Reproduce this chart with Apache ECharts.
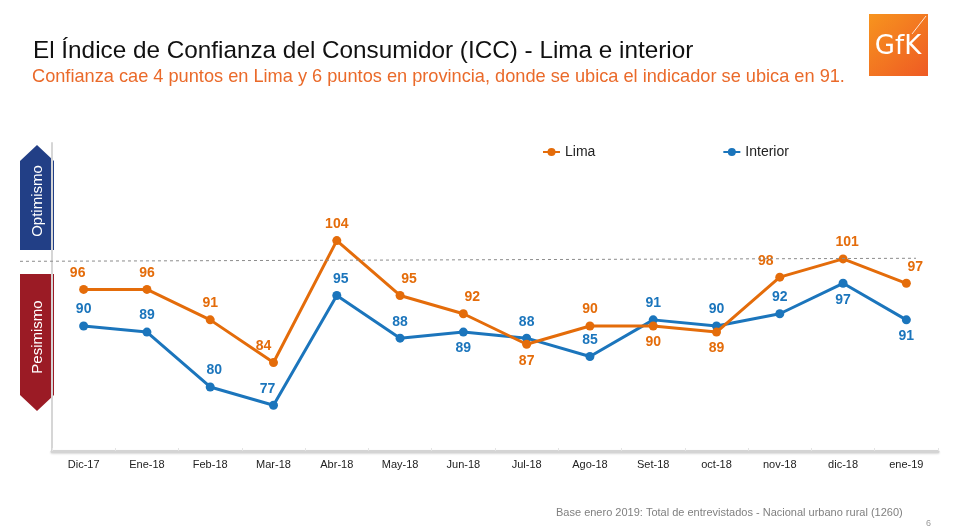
<!DOCTYPE html>
<html>
<head>
<meta charset="utf-8">
<script src="https://cdn.jsdelivr.net/npm/echarts@6/dist/echarts.min.js"></script>
<style>
  html, body { margin: 0; padding: 0; background: #fff; }
  #chart { width: 962px; height: 526px; }
</style>
</head>
<body>
<div id="chart"></div>
<script>
// meses
var months = ['Dic-17', 'Ene-18', 'Feb-18', 'Mar-18', 'Abr-18', 'May-18', 'Jun-18',
              'Jul-18', 'Ago-18', 'Set-18', 'oct-18', 'nov-18', 'dic-18', 'ene-19'];
// ICC Lima
var lima = [96, 96, 91, 84, 104, 95, 92, 87, 90, 90, 89, 98, 101, 97];
// ICC Interior
var interior = [90, 89, 80, 77, 95, 88, 89, 88, 85, 91, 90, 92, 97, 91];
// linea de referencia (optimismo / pesimismo)
var neutral = [100.6, 101.1];

// etiquetas que van debajo del punto y pequeños desplazamientos
var limaBelow = [7, 9, 10];
var interiorBelow = [6, 12, 13];
var limaDx = {0: -6, 3: -10, 5: 9, 6: 9, 11: -14, 12: 4, 13: 9};
var interiorDx = {2: 4, 3: -6, 4: 4};

var LIMA_COLOR = '#E46C0A';
var INT_COLOR = '#1B75BC';

function buildData(values, below, dx) {
    return values.map(function (v, i) {
        return {
            value: v,
            label: {
                position: below.indexOf(i) >= 0 ? 'bottom' : 'top',
                offset: [dx[i] || 0, 0]
            }
        };
    });
}

var myChart = echarts.init(document.getElementById('chart'));

var option = {
    backgroundColor: '#fff',
    textStyle: { fontFamily: 'Liberation Sans, Arial, sans-serif' },
    animation: false,
    title: [{
        text: 'El Índice de Confianza del Consumidor (ICC) - Lima e interior',
        left: 28,
        top: 34,
        textStyle: { fontSize: 24.3, fontWeight: 'normal', color: '#111' }
    }, {
        text: 'Confianza cae 4 puntos en Lima y 6 puntos en provincia, donde se ubica el indicador se ubica en 91.',
        left: 27,
        top: 63,
        textStyle: { fontSize: 18.2, fontWeight: 'normal', color: '#EA6A2A' }
    }, {
        text: 'Base enero 2019: Total de entrevistados - Nacional urbano rural (1260)',
        left: 551,
        top: 502,
        textStyle: { fontSize: 11, fontWeight: 'normal', color: '#808080' }
    }],
    legend: {
        left: 537,
        top: 140,
        itemWidth: 17,
        itemHeight: 10,
        itemGap: 127,
        textStyle: { fontSize: 14, color: '#222' },
        data: ['Lima', 'Interior']
    },
    grid: {
        left: 52,
        right: 24,
        top: 143,
        bottom: 75
    },
    xAxis: {
        type: 'category',
        data: months,
        boundaryGap: true,
        axisLine: {
            lineStyle: {
                color: '#d4d4d4', width: 3,
                shadowColor: 'rgba(0,0,0,0.15)', shadowBlur: 2, shadowOffsetY: 1
            }
        },
        axisTick: { show: true, inside: true, length: 3, lineStyle: { color: '#e4e4e4' } },
        axisLabel: { fontSize: 11, color: '#222', margin: 8 }
    },
    yAxis: {
        type: 'value',
        min: 69.5,
        max: 120,
        axisLine: { show: true, lineStyle: { color: '#d6d6d6', width: 2 } },
        axisTick: { show: false },
        axisLabel: { show: false },
        splitLine: { show: false }
    },
    series: [{
        name: 'Lima',
        type: 'line',
        clip: false,
        data: buildData(lima, limaBelow, limaDx),
        symbol: 'circle',
        symbolSize: 9,
        lineStyle: { color: LIMA_COLOR, width: 3 },
        itemStyle: { color: LIMA_COLOR },
        label: {
            show: true,
            fontSize: 14,
            fontWeight: 'bold',
            color: LIMA_COLOR,
            distance: 5
        },
        z: 3,
        markLine: {
            silent: true,
            symbol: 'none',
            label: { show: false },
            lineStyle: { color: '#8c8c8c', type: [3, 3], width: 1 },
            data: [[
                { x: 20, yAxis: neutral[0] },
                { x: 916, yAxis: neutral[1] }
            ]]
        }
    }, {
        name: 'Interior',
        type: 'line',
        clip: false,
        data: buildData(interior, interiorBelow, interiorDx),
        symbol: 'circle',
        symbolSize: 9,
        lineStyle: { color: INT_COLOR, width: 3 },
        itemStyle: { color: INT_COLOR },
        label: {
            show: true,
            fontSize: 14,
            fontWeight: 'bold',
            color: INT_COLOR,
            distance: 5
        },
        z: 2
    }],
    graphic: [
        // flecha optimismo
        {
            type: 'polygon',
            shape: { points: [[20, 161], [37, 145], [54, 161], [54, 250], [20, 250]] },
            style: { fill: '#223F86' }
        },
        {
            type: 'text',
            x: 38, y: 201,
            rotation: Math.PI / 2,
            style: {
                text: 'Optimismo', fill: '#fff', fontSize: 15,
                fontFamily: 'Liberation Sans, Arial, sans-serif',
                align: 'center', verticalAlign: 'middle'
            }
        },
        // flecha pesimismo
        {
            type: 'polygon',
            shape: { points: [[20, 274], [54, 274], [54, 395], [37, 411], [20, 395]] },
            style: { fill: '#9B1B25' }
        },
        {
            type: 'text',
            x: 38, y: 337,
            rotation: Math.PI / 2,
            style: {
                text: 'Pesimismo', fill: '#fff', fontSize: 15,
                fontFamily: 'Liberation Sans, Arial, sans-serif',
                align: 'center', verticalAlign: 'middle'
            }
        },
        // logo GfK
        {
            type: 'rect',
            shape: { x: 869, y: 14, width: 59, height: 62 },
            style: {
                fill: new echarts.graphic.LinearGradient(0, 0, 1, 1, [
                    { offset: 0, color: '#F7941E' },
                    { offset: 1, color: '#EE5A24' }
                ])
            }
        },
        {
            type: 'line',
            shape: { x1: 926, y1: 16, x2: 912, y2: 34 },
            style: { stroke: 'rgba(255,255,255,0.8)', lineWidth: 1 }
        },
        {
            type: 'text',
            x: 898, y: 47,
            style: {
                text: 'GfK', fill: '#fff', fontSize: 26,
                fontFamily: 'DejaVu Sans, sans-serif', fontWeight: 'normal',
                align: 'center', verticalAlign: 'middle'
            }
        },
        {
            type: 'text',
            x: 926, y: 519,
            style: { text: '6', fill: '#999', fontSize: 9, fontFamily: 'Liberation Sans, Arial, sans-serif' }
        }
    ]
};

myChart.setOption(option);
window.addEventListener('resize', function () {
    myChart.resize();
});
</script>
</body>
</html>
